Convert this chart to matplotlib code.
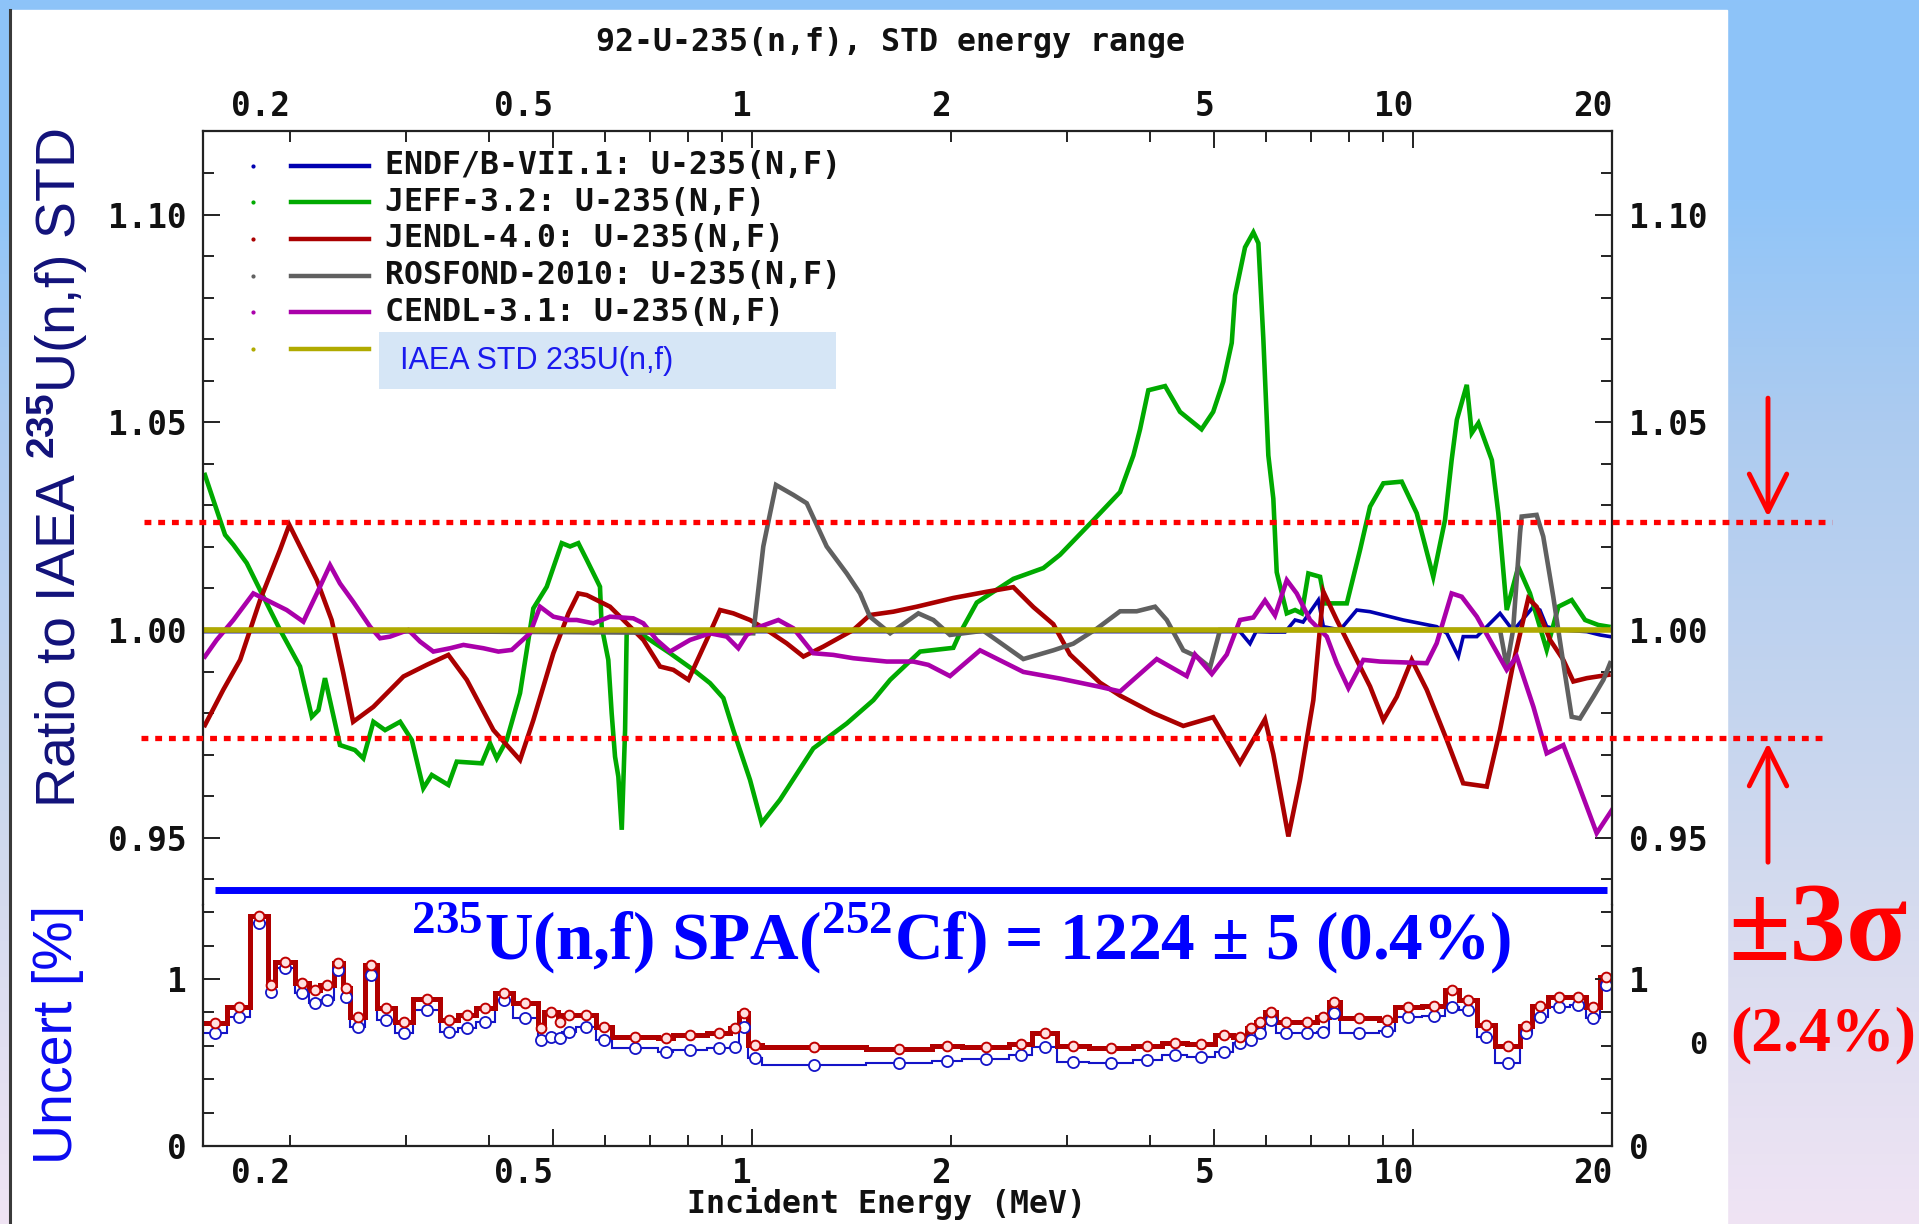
import numpy as np
import matplotlib
matplotlib.use('Agg')
import matplotlib.pyplot as plt
from matplotlib.lines import Line2D
from matplotlib.patches import Rectangle, FancyArrowPatch
from matplotlib.ticker import FixedLocator, FixedFormatter, NullFormatter
from matplotlib.transforms import blended_transform_factory

plt.rcParams['font.family'] = 'DejaVu Sans Mono'
plt.rcParams['font.weight'] = 'bold'
plt.rcParams['mathtext.fontset'] = 'custom'
plt.rcParams['mathtext.rm'] = 'Liberation Serif:bold'
plt.rcParams['mathtext.sf'] = 'Liberation Sans'

# ---------------- upper panel: ratio to IAEA standard ----------------
endf_e = [0.1477, 5.473, 5.667, 5.787, 6.077, 6.404, 6.631, 6.818, 7.190, 7.318, 7.756, 8.220, 8.610,
          9.667, 10.86, 11.25, 11.71, 11.91, 12.49, 12.93, 13.54, 14.02, 14.35, 15.21, 15.56, 15.93,
          16.69, 18.32, 19.18, 19.87]
endf_r = [0.9996, 0.9996, 0.9967, 0.9996, 0.9995, 0.9995, 1.0024, 1.0019, 1.0072, 1.0008, 1.0000,
          1.0048, 1.0044, 1.0024, 1.0008, 0.9992, 0.9936, 0.9984, 0.9984, 1.0008, 1.0040, 1.0008,
          1.0008, 1.0056, 1.0048, 1.0008, 1.0000, 0.9996, 0.9988, 0.9984]

jeff_e = [0.1487, 0.1595, 0.1642, 0.1720, 0.1802, 0.1932, 0.2071, 0.2158, 0.2208, 0.2259, 0.2380,
          0.2507, 0.2582, 0.2674, 0.2785, 0.2935, 0.3057, 0.3182, 0.3277, 0.3472, 0.3575, 0.3901,
          0.4015, 0.4110, 0.4255, 0.4457, 0.4668, 0.4891, 0.5154, 0.5305, 0.5460, 0.5622, 0.5822,
          0.5888, 0.5923, 0.6061, 0.6133, 0.6205, 0.6277, 0.6352, 0.6426, 0.6463, 0.6769, 0.7515,
          0.8151, 0.8639, 0.9049, 0.9369, 0.9931, 1.034, 1.102, 1.238, 1.391, 1.526, 1.618, 1.796,
          2.016, 2.064, 2.188, 2.485, 2.759, 2.924, 3.283, 3.604, 3.775, 3.864, 3.977, 4.216, 4.441,
          4.787, 4.985, 5.164, 5.318, 5.380, 5.570, 5.734, 5.835, 5.936, 6.041, 6.147, 6.220, 6.442,
          6.631, 6.787, 6.945, 7.234, 7.362, 7.940, 8.316, 8.610, 9.018, 9.614, 10.13, 10.73, 11.18,
          11.44, 11.65, 12.06, 12.27, 12.56, 13.16, 13.46, 13.86, 14.43, 15.03, 15.93, 16.59, 17.38,
          18.21, 19.07, 19.75]
jeff_r = [1.0373, 1.0229, 1.0205, 1.0161, 1.0096, 1.0000, 0.9912, 0.9791, 0.9807, 0.9884, 0.9723,
          0.9711, 0.9691, 0.9779, 0.9759, 0.9779, 0.9735, 0.9619, 0.9651, 0.9627, 0.9683, 0.9679,
          0.9727, 0.9691, 0.9735, 0.9848, 1.0052, 1.0104, 1.0209, 1.0201, 1.0209, 1.0169, 1.0120,
          1.0104, 1.0008, 0.9928, 0.9799, 0.9695, 0.9647, 0.9519, 0.9759, 1.0000, 0.9992, 0.9944,
          0.9904, 0.9872, 0.9836, 0.9759, 0.9639, 0.9535, 0.9591, 0.9715, 0.9775, 0.9831, 0.9880,
          0.9948, 0.9957, 0.9993, 1.0066, 1.0123, 1.0149, 1.0181, 1.0264, 1.0332, 1.0420, 1.0483,
          1.0577, 1.0587, 1.0525, 1.0483, 1.0525, 1.0598, 1.0691, 1.0806, 1.0921, 1.0957, 1.0931,
          1.0702, 1.0420, 1.0316, 1.0139, 1.0040, 1.0048, 1.0040, 1.0136, 1.0128, 1.0064, 1.0064,
          1.0193, 1.0297, 1.0353, 1.0357, 1.0281, 1.0128, 1.0265, 1.0409, 1.0506, 1.0590, 1.0474,
          1.0498, 1.0409, 1.0281, 1.0048, 1.0152, 1.0088, 0.9952, 1.0056, 1.0072, 1.0024, 1.0012,
          1.0008]

jendl_e = [0.1487, 0.1585, 0.1681, 0.1802, 0.1932, 0.1995, 0.2071, 0.2196, 0.2312, 0.2408, 0.2492,
           0.2674, 0.2969, 0.3220, 0.3472, 0.3702, 0.4062, 0.4457, 0.4668, 0.5005, 0.5275, 0.5460,
           0.5622, 0.6097, 0.6463, 0.6848, 0.7258, 0.7603, 0.8012, 0.8539, 0.8946, 0.9369, 0.9931,
           1.0525, 1.128, 1.196, 1.282, 1.423, 1.508, 1.636, 1.775, 2.016, 2.265, 2.485, 2.665, 2.856,
           3.027, 3.361, 3.604, 4.047, 4.492, 4.985, 5.473, 5.971, 6.147, 6.478, 6.745, 7.066, 7.318,
           7.667, 8.124, 8.610, 9.018, 9.448, 9.955, 10.49, 11.25, 11.91, 12.93, 13.54, 14.18, 14.94,
           15.38, 16.12, 16.88, 17.48, 18.32, 19.75]
jendl_r = [0.9771, 0.9856, 0.9928, 1.0072, 1.0193, 1.0253, 1.0201, 1.0120, 1.0024, 0.9896, 0.9779,
           0.9815, 0.9888, 0.9916, 0.9940, 0.9880, 0.9759, 0.9687, 0.9783, 0.9944, 1.0040, 1.0088,
           1.0084, 1.0056, 1.0016, 0.9976, 0.9912, 0.9904, 0.9880, 0.9976, 1.0048, 1.0040, 1.0024,
           1.0000, 0.9968, 0.9936, 0.9960, 1.0000, 1.0036, 1.0044, 1.0056, 1.0077, 1.0092, 1.0103,
           1.0055, 1.0014, 0.9941, 0.9873, 0.9842, 0.9800, 0.9769, 0.9790, 0.9680, 0.9785, 0.9701,
           0.9503, 0.9639, 0.9831, 1.0092, 1.0024, 0.9944, 0.9864, 0.9783, 0.9839, 0.9928, 0.9856,
           0.9735, 0.9631, 0.9623, 0.9759, 0.9920, 1.0076, 1.0056, 0.9976, 0.9928, 0.9876, 0.9884,
           0.9892]

ros_e = [0.1477, 1.0045, 1.022, 1.040, 1.065, 1.087, 1.155, 1.210, 1.297, 1.391, 1.457, 1.508, 1.618,
         1.785, 1.881, 1.993, 2.239, 2.573, 2.856, 3.062, 3.322, 3.604, 3.819, 4.071, 4.241, 4.492,
         4.708, 4.931, 5.105, 13.54, 13.86, 14.17, 14.52, 14.60, 15.38, 15.74, 16.30, 16.88, 17.38,
         17.89, 18.74, 19.41, 19.87]
ros_r = [1.0, 0.9992, 1.0096, 1.0201, 1.0281, 1.0349, 1.0325, 1.0305, 1.0201, 1.0136, 1.0088, 1.0032,
         0.9992, 1.0040, 1.0024, 0.9988, 0.9998, 0.9930, 0.9951, 0.9967, 1.0003, 1.0045, 1.0045,
         1.0056, 1.0024, 0.9951, 0.9936, 0.9910, 1.0, 1.0, 0.9912, 1.0, 1.0234, 1.0273, 1.0277,
         1.0225, 1.0080, 0.9920, 0.9791, 0.9787, 0.9839, 0.9880, 0.9920]

cendl_e = [0.1487, 0.1549, 0.1642, 0.1760, 0.1866, 0.1977, 0.2095, 0.2196, 0.2299, 0.2380, 0.2492,
           0.2643, 0.2737, 0.2834, 0.3020, 0.3146, 0.3295, 0.3493, 0.3659, 0.3923, 0.4133, 0.4330,
           0.4614, 0.4778, 0.5005, 0.5275, 0.5429, 0.5754, 0.6097, 0.6613, 0.6848, 0.7175, 0.7515,
           0.8057, 0.8639, 0.9157, 0.9534, 0.9817, 1.028, 1.096, 1.155, 1.238, 1.327, 1.423, 1.599,
           1.754, 1.848, 1.993, 2.213, 2.573, 2.924, 3.361, 3.604, 4.095, 4.546, 4.679, 4.961, 5.227,
           5.473, 5.734, 5.971, 6.183, 6.442, 6.669, 6.985, 7.405, 7.667, 7.985, 8.411, 8.914, 10.49,
           10.86, 11.44, 11.85, 12.49, 13.86, 14.35, 15.21, 15.93, 16.88, 17.69, 18.96, 20.0]
cendl_r = [0.9936, 0.9976, 1.0024, 1.0088, 1.0068, 1.0048, 1.0020, 1.0088, 1.0156, 1.0112, 1.0068,
           1.0008, 0.9980, 0.9984, 1.0000, 0.9972, 0.9948, 0.9956, 0.9964, 0.9956, 0.9948, 0.9952,
           0.9992, 1.0056, 1.0032, 1.0024, 1.0024, 1.0016, 1.0032, 1.0028, 1.0016, 0.9976, 0.9948,
           0.9976, 0.9992, 0.9984, 0.9956, 0.9988, 1.0008, 1.0024, 1.0004, 0.9944, 0.9940, 0.9932,
           0.9924, 0.9924, 0.9916, 0.9889, 0.9951, 0.9899, 0.9883, 0.9863, 0.9852, 0.9930, 0.9889,
           0.9941, 0.9894, 0.9941, 1.0024, 1.0030, 1.0071, 1.0035, 1.0120, 1.0088, 1.0024, 0.9984,
           0.9920, 0.9860, 0.9928, 0.9924, 0.9920, 0.9968, 1.0088, 1.0080, 1.0032, 0.9904, 0.9936,
           0.9815, 0.9703, 0.9723, 0.9639, 0.9511, 0.9567]

std_e = [0.1477, 20.0]
std_r = [1.0, 1.0]

band = [0.974, 1.026]   # +-3 sigma lines

labels = ['ENDF/B-VII.1: U-235(N,F)', 'JEFF-3.2: U-235(N,F)', 'JENDL-4.0: U-235(N,F)',
          'ROSFOND-2010: U-235(N,F)', 'CENDL-3.1: U-235(N,F)', '']
colors = ['#0000b0', '#00aa00', '#aa0000', '#606060', '#aa00aa', '#b0aa00']

# ---------------- lower panel: uncertainty [%] ----------------
unc_edges = [0.1477, 0.1607, 0.1739, 0.1853, 0.1897, 0.2037, 0.2135, 0.2222, 0.2329, 0.2403, 0.2461,
             0.2601, 0.2706, 0.2881, 0.3070, 0.3375, 0.3594, 0.3829, 0.4078, 0.4344, 0.4739, 0.4853,
             0.5085, 0.5167, 0.5418, 0.5817, 0.6147, 0.7199, 0.7606, 0.8563, 0.9266, 0.9564, 0.9872,
             1.0347, 1.488, 1.871, 2.076, 2.451, 2.654, 2.897, 3.237, 3.765, 4.175, 4.556, 5.011, 5.341,
             5.603, 5.781, 5.968, 6.209, 6.669, 7.163, 7.454, 7.755, 8.877, 9.386, 10.32, 11.18, 11.72,
             12.49, 13.31, 14.53, 15.11, 15.98, 17.30, 18.29, 19.18, 20.0]
unc_red = [0.735, 0.834, 1.377, 0.964, 1.104, 0.974, 0.934, 0.964, 1.094, 0.944, 0.774, 1.084, 0.824,
           0.744, 0.880, 0.754, 0.784, 0.824, 0.914, 0.854, 0.705, 0.804, 0.744, 0.784, 0.784, 0.715,
           0.655, 0.645, 0.665, 0.675, 0.705, 0.794, 0.605, 0.595, 0.580, 0.601, 0.595, 0.611, 0.679,
           0.601, 0.585, 0.601, 0.615, 0.611, 0.665, 0.655, 0.705, 0.744, 0.804, 0.744, 0.744, 0.774,
           0.864, 0.764, 0.754, 0.830, 0.838, 0.934, 0.874, 0.725, 0.601, 0.719, 0.838, 0.890, 0.894,
           0.834, 1.014]
unc_blue = [0.675, 0.774, 1.333, 0.924, 1.064, 0.914, 0.854, 0.874, 1.054, 0.894, 0.715, 1.024, 0.754,
            0.675, 0.814, 0.685, 0.705, 0.744, 0.874, 0.764, 0.635, 0.655, 0.645, 0.685, 0.715, 0.635,
            0.585, 0.565, 0.575, 0.585, 0.595, 0.715, 0.525, 0.485, 0.495, 0.511, 0.519, 0.545, 0.595,
            0.505, 0.499, 0.515, 0.545, 0.535, 0.565, 0.615, 0.635, 0.675, 0.754, 0.675, 0.679, 0.685,
            0.794, 0.675, 0.691, 0.770, 0.778, 0.834, 0.814, 0.651, 0.495, 0.675, 0.770, 0.834, 0.844,
            0.764, 0.964]

W, H = 1919, 1224


def fx(px):
    return px / W


def fy(py):
    return 1 - py / H


fig = plt.figure(figsize=(W / 100, H / 100), dpi=100)

# slide background: gradient + white picture area
bg = fig.add_axes([0, 0, 1, 1], zorder=-10)
stop_y = [0, 200, 420, 870, 1224]
stop_c = [(141, 195, 249), (145, 197, 248), (172, 203, 240), (210, 218, 238), (240, 228, 244)]
yy = np.arange(H)
grad = np.stack([np.interp(yy, stop_y, [c[i] for c in stop_c]) for i in range(3)], axis=-1) / 255
bg.imshow(np.repeat(grad[:, None, :], 2, axis=1), aspect='auto', extent=[0, W, H, 0])
bg.add_patch(Rectangle((12, 10), 1727 - 12, H - 10, color='white'))
bg.plot([9.5, 9.5], [10, H], color='#3a3a3a', lw=2.2)
bg.set_xlim(0, W)
bg.set_ylim(H, 0)
bg.axis('off')

xlim = (0.1477, 20)
ax = fig.add_axes([fx(203), fy(905), (1612 - 203) / W, (905 - 131) / H])
ax2 = fig.add_axes([fx(203), fy(1146), (1612 - 203) / W, (1146 - 905) / H])

series = [(endf_e, endf_r, 2.6), (jeff_e, jeff_r, 3.3), (jendl_e, jendl_r, 3.3),
          (ros_e, ros_r, 3.3), (cendl_e, cendl_r, 3.3), (std_e, std_r, 4.0)]
for (e, r, lw), c in zip(series, colors):
    ax.plot(e, r, color=c, lw=lw, solid_joinstyle='miter')

ax.set_xscale('log')
ax.set_xlim(*xlim)
ax.set_ylim(0.9338, 1.1201)
ax.spines['bottom'].set_visible(False)

# lower panel
ax2.stairs(unc_blue, unc_edges, color='#1414c8', lw=1.5, baseline=None)
ax2.stairs(unc_red, unc_edges, color='#b00000', lw=3.6, baseline=None)
edges = np.array(unc_edges)
mid = np.sqrt(edges[:-1] * edges[1:])
ax2.plot(mid, unc_blue, 'o', ms=8, mfc='white', mec='#1414c8', mew=1.3)
ax2.plot(mid, unc_red, 'o', ms=7, mfc='#ffe0e0', mec='#c00000', mew=1.4)
ax2.set_xscale('log')
ax2.set_xlim(*xlim)
ax2.set_ylim(0, 1.443)
ax2.spines['top'].set_visible(False)

xmaj = [0.5, 1, 5, 10]
xmin = [0.2, 0.3, 0.4, 0.6, 0.7, 0.8, 0.9, 2, 3, 4, 6, 7, 8, 9, 20]
xmin_lab = ['0.2', '', '', '', '', '', '', '2', '', '', '', '', '', '', '20']
for a in (ax, ax2):
    a.xaxis.set_major_locator(FixedLocator(xmaj))
    a.xaxis.set_major_formatter(FixedFormatter(['0.5', '1', '5', '10']))
    a.xaxis.set_minor_locator(FixedLocator(xmin))
    a.xaxis.set_minor_formatter(FixedFormatter(xmin_lab))
    for s in a.spines.values():
        s.set_linewidth(1.6)
        s.set_color('#222222')
    a.tick_params(which='both', direction='in', width=1.4, color='#222222', labelsize=23.5,
                  labelcolor='#111111')
    a.tick_params(which='major', length=12.5)
    a.tick_params(which='minor', length=8)
    a.tick_params(axis='y', which='both', left=True, right=True, labelleft=True,
                  labelright=True, pad=12)

ax.tick_params(axis='x', which='both', top=True, bottom=False, labeltop=True,
               labelbottom=False, pad=6)
ax2.tick_params(axis='x', which='both', top=False, bottom=True, labeltop=False,
                labelbottom=True, pad=8)

ax.yaxis.set_major_locator(FixedLocator([0.95, 1.0, 1.05, 1.10]))
ax.yaxis.set_major_formatter(FixedFormatter(['0.95', '1.00', '1.05', '1.10']))
ax.yaxis.set_minor_locator(FixedLocator([0.94, 0.96, 0.97, 0.98, 0.99, 1.01, 1.02, 1.03, 1.04,
                                         1.06, 1.07, 1.08, 1.09, 1.11]))
ax.yaxis.set_minor_formatter(NullFormatter())
ax2.yaxis.set_major_locator(FixedLocator([0, 1]))
ax2.yaxis.set_major_formatter(FixedFormatter(['0', '1']))
ax2.yaxis.set_minor_locator(FixedLocator([0.2, 0.4, 0.6, 0.8, 1.2, 1.4]))
ax2.yaxis.set_minor_formatter(NullFormatter())

for a in (ax, ax2):
    plt.setp(a.get_xticklabels(which='both'), ha='right')

# legend drawn by hand
rows = [165.7, 202.3, 239, 275.7, 312.3, 349]
for lab, c, r in zip(labels, colors, rows):
    fig.add_artist(Line2D([fx(291), fx(369)], [fy(r), fy(r)], color=c, lw=3.2))
    fig.add_artist(Line2D([fx(253)], [fy(r)], marker='o', ms=2, color=c, lw=0))
    if lab:
        fig.text(fx(385), fy(r), lab, ha='left', va='center', fontsize=22.7, color='#111111')
fig.add_artist(Rectangle((fx(379), fy(389)), (836 - 379) / W, (389 - 332) / H,
                         facecolor='#d6e6f6', edgecolor='none'))
fig.text(fx(400), fy(361), 'IAEA STD 235U(n,f)', ha='left', va='center', fontsize=22,
         family='Liberation Sans', weight='normal', color='#1a1aee')

# titles
fig.text(fx(890), fy(42), '92-U-235(n,f), STD energy range', ha='center', va='center',
         fontsize=22.7, color='#111111')
fig.text(fx(886), fy(1204), 'Incident Energy (MeV)', ha='center', va='center',
         fontsize=22.7, color='#111111')
fig.text(fx(1698), fy(1046), '0', ha='center', va='center', fontsize=22, color='#111111')
fig.text(fx(58), fy(468), 'Ratio to IAEA $^{\\mathsf{235}}$U(n,f) STD', rotation=90,
         ha='center', va='center', family='Liberation Sans', weight='normal', fontsize=40,
         color='#12127a')
fig.text(fx(58), fy(1034), 'Uncert [%]', rotation=90, ha='center', va='center',
         family='Liberation Sans', weight='normal', fontsize=40, color='#0a0af0')

# +-3 sigma overlay
trans = blended_transform_factory(fig.transFigure, ax.transData)
fig.add_artist(Line2D([fx(144), fx(1832)], [band[1], band[1]], transform=trans, color='red',
                      lw=3.8, dashes=(1.3, 1.3), dash_capstyle='butt'))
fig.add_artist(Line2D([fx(141), fx(1826)], [band[0], band[0]], transform=trans, color='red',
                      lw=3.8, dashes=(1.3, 1.3), dash_capstyle='butt'))
for y0, y1 in [(1.0558, 1.0272), (0.9441, 0.9728)]:
    fig.add_artist(FancyArrowPatch((fx(1768), y0), (fx(1768), y1), transform=trans,
                                   arrowstyle='->,head_length=1.0,head_width=0.5',
                                   mutation_scale=27, lw=3.5, color='red',
                                   shrinkA=0, shrinkB=0))
fig.text(fx(1818), fy(960), '±3σ', ha='center', va='baseline', family='Liberation Serif',
         weight='bold', fontsize=81, color='red')
fig.text(fx(1823), fy(1050), '(2.4%)', ha='center', va='baseline', family='Liberation Serif',
         weight='bold', fontsize=46, color='red')

# SPA annotation
fig.add_artist(Line2D([fx(215), fx(1607)], [fy(890), fy(890)], color='#0000ff', lw=5,
                      solid_capstyle='butt'))
fig.text(fx(411), fy(960), '$^{235}$U(n,f) SPA($^{252}$Cf) = 1224 ± 5 (0.4%)', ha='left',
         va='baseline', family='Liberation Serif', weight='bold', fontsize=48.5, color='#0000ff')

fig.savefig('out.png', dpi=100)
